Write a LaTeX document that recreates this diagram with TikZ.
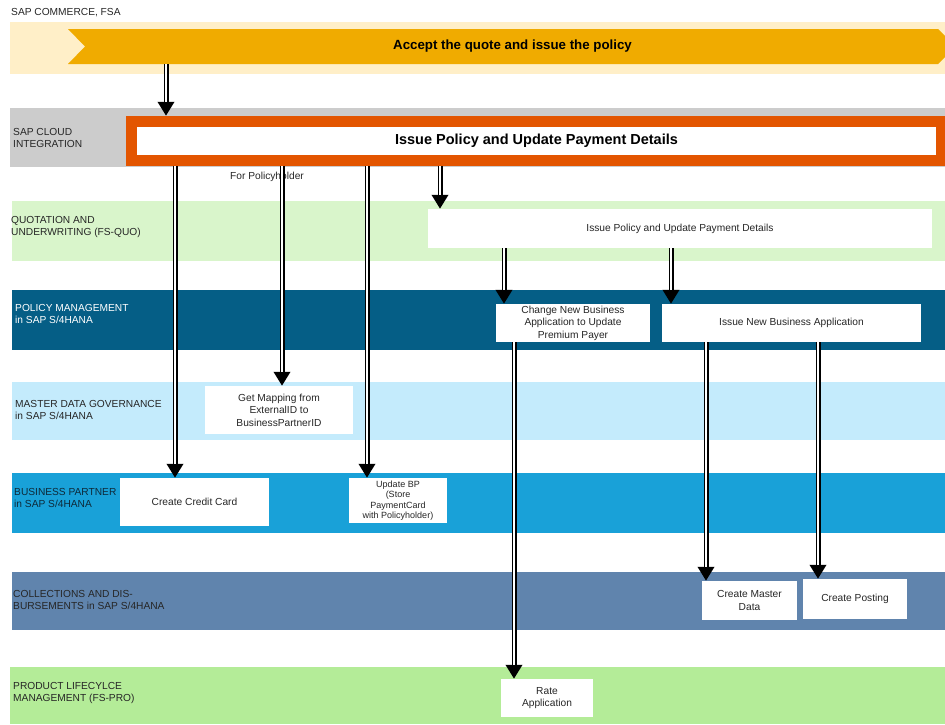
\documentclass[tikz,border=0pt]{standalone}
\usepackage{fontspec}
\setmainfont{Liberation Sans}
\usetikzlibrary{arrows.meta}

\definecolor{commerceLane}{HTML}{FFEFC8}
\definecolor{chevronFill}{HTML}{F0AB00}
\definecolor{cloudLane}{HTML}{CCCCCC}
\definecolor{cpiOrange}{HTML}{E35500}
\definecolor{quoLane}{HTML}{D9F5CB}
\definecolor{pmLane}{HTML}{055E86}
\definecolor{mdgLane}{HTML}{C4EBFC}
\definecolor{bpLane}{HTML}{19A1D8}
\definecolor{cdLane}{HTML}{6084AD}
\definecolor{plmLane}{HTML}{B4EC98}
\definecolor{laneText}{HTML}{262626}
\definecolor{bpText}{HTML}{0E2A3A}

\tikzset{
  lane label/.style={anchor=west, align=left, inner sep=0pt,
    font=\fontsize{10.2}{12.5}\selectfont, text=laneText},
  task/.style={fill=white, inner sep=0pt, align=center,
    font=\fontsize{10.2}{12.5}\selectfont, text=laneText},
  flow/.style={line width=5pt, -{Triangle[length=14pt,width=16pt]},
    postaction={draw=white, line width=1.6pt, -, shorten >=14pt}}
}

\begin{document}
\begin{tikzpicture}[x=1pt,y=-1pt]
  \useasboundingbox (0,0) rectangle (945,724);

  % swim lanes
  \fill[commerceLane] (10,22) rectangle (945,74);
  \fill[cloudLane] (10,108) rectangle (945,167);
  \fill[quoLane] (12,201) rectangle (945,261);
  \fill[pmLane] (12,290) rectangle (945,350);
  \fill[mdgLane] (12,382) rectangle (945,440);
  \fill[bpLane] (12,473) rectangle (945,533);
  \fill[cdLane] (12,572) rectangle (945,630);
  \fill[plmLane] (10,667) rectangle (945,724);

  \node[lane label] (commerce) at (11,13) {SAP COMMERCE, FSA};
  \node[lane label] (cloud) at (13,138) {SAP CLOUD\\INTEGRATION};
  \node[lane label] (quo) at (11,227) {QUOTATION AND\\UNDERWRITING (FS-QUO)};
  \node[lane label, text=white] (pm) at (15,314) {POLICY MANAGEMENT\\in SAP S/4HANA};
  \node[lane label] (mdg) at (15,410) {MASTER DATA GOVERNANCE\\in SAP S/4HANA};
  \node[lane label, text=bpText] (bp) at (14,498) {BUSINESS PARTNER\\in SAP S/4HANA};
  \node[lane label] (cd) at (13,600) {COLLECTIONS AND DIS-\\BURSEMENTS in SAP S/4HANA};
  \node[lane label] (plm) at (13,693) {PRODUCT LIFECYLCE\\MANAGEMENT (FS-PRO)};

  % process step
  \fill[chevronFill] (68,29) -- (938,29) -- (945,36) -- (945,57) -- (938,64)
    -- (68,64) -- (85,46.5) -- cycle;
  \node[font=\bfseries\fontsize{13.3}{15}\selectfont, text=black] (accept)
    at (512.5,46.5) {Accept the quote and issue the policy};
  \coordinate (chev) at (166,64);

  % integration flow
  \node[fill=cpiOrange, minimum width=819pt, minimum height=50pt, inner sep=0pt]
    (cpi) at (535.5,141) {};
  \node[task, minimum width=799pt, minimum height=28pt, text=black,
    font=\bfseries\fontsize{14.5}{17}\selectfont]
    (issuecpi) at (536.5,141) {Issue Policy and Update Payment Details};
  \node[font=\fontsize{10.2}{12.5}\selectfont, text=laneText, inner sep=0pt]
    (forph) at (267,177) {For Policyholder};

  % tasks
  \node[task, minimum width=504pt, minimum height=39pt] (issuequo) at (680,228.5)
    {Issue Policy and Update Payment Details};
  \node[task, minimum width=154pt, minimum height=38pt] (changenba) at (573,323)
    {Change New Business\\Application to Update\\Premium Payer};
  \node[task, minimum width=259pt, minimum height=38pt] (issuenba) at (791.5,323)
    {Issue New Business Application};
  \node[task, minimum width=148pt, minimum height=48pt] (mapping) at (279,410)
    {Get Mapping from\\ExternalID to\\BusinessPartnerID};
  \node[task, minimum width=149pt, minimum height=48pt] (creditcard) at (194.5,502)
    {Create Credit Card};
  \node[task, minimum width=98pt, minimum height=45pt,
    font=\fontsize{9}{10.5}\selectfont] (updatebp) at (398,500.5)
    {Update BP\\(Store\\PaymentCard\\with Policyholder)};
  \node[task, minimum width=95pt, minimum height=39pt] (masterdata) at (749.5,600.5)
    {Create Master\\Data};
  \node[task, minimum width=104pt, minimum height=40pt] (posting) at (855,599)
    {Create Posting};
  \node[task, minimum width=92pt, minimum height=38pt] (rate) at (547,698)
    {Rate\\Application};

  % calls
  \draw[flow] (chev) -- (166,0 |- cpi.north);
  \draw[flow] (175,0 |- cpi.south) -- (175,0 |- creditcard.north);
  \draw[flow] (282,0 |- cpi.south) -- (282,0 |- mapping.north);
  \draw[flow] (367,0 |- cpi.south) -- (367,0 |- updatebp.north);
  \draw[flow] (440,0 |- cpi.south) -- (440,0 |- issuequo.north);
  \draw[flow] (504,0 |- issuequo.south) -- (504,0 |- changenba.north);
  \draw[flow] (671,0 |- issuequo.south) -- (671,0 |- issuenba.north);
  \draw[flow] (514,0 |- changenba.south) -- (514,0 |- rate.north);
  \draw[flow] (706,0 |- issuenba.south) -- (706,0 |- masterdata.north);
  \draw[flow] (818,0 |- issuenba.south) -- (818,0 |- posting.north);
\end{tikzpicture}
\end{document}
